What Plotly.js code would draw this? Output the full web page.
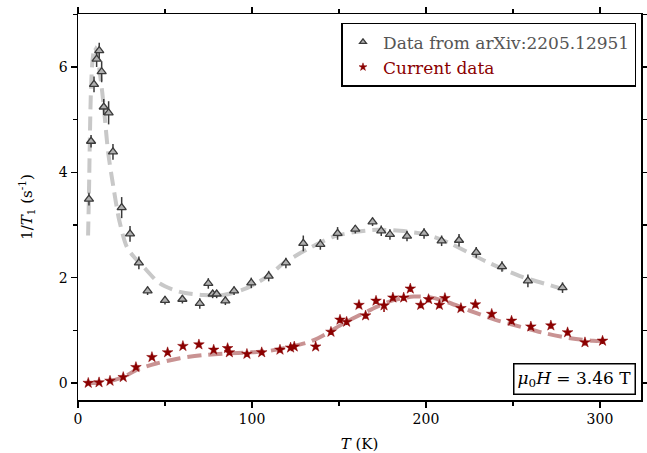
<!DOCTYPE html>
<html>
<head>
<meta charset="utf-8">
<script src="https://cdn.plot.ly/plotly-3.0.1.min.js"></script>
<style>html,body{margin:0;padding:0;background:#fff;}#chart{width:647px;height:453px;}</style>
</head>
<body>
<div id="chart"></div>
<script>
// Data from arXiv:2205.12951 (gray triangles)
const refT = [6.3, 7.5, 9.2, 10.7, 12.2, 13.6, 14.8, 17.6, 20.1, 25.1, 29.9, 35, 40, 50, 60, 70, 74.9, 77.4, 79.7, 84.7, 89.7, 99.6, 109.6, 119.5, 129.5, 139.3, 149.2, 159.4, 169.3, 174.3, 179.3, 189.1, 198.9, 209, 219, 228.9, 243.7, 258.6, 278.5];
const refY = [3.49, 4.59, 5.67, 6.15, 6.31, 5.91, 5.24, 5.13, 4.39, 3.33, 2.83, 2.28, 1.75, 1.57, 1.59, 1.51, 1.89, 1.69, 1.69, 1.56, 1.75, 1.90, 2.03, 2.28, 2.65, 2.63, 2.84, 2.92, 3.06, 2.89, 2.82, 2.79, 2.84, 2.70, 2.71, 2.48, 2.21, 1.94, 1.81];
const refErr = [0.12, 0.12, 0.15, 0.15, 0.15, 0.2, 0.15, 0.22, 0.15, 0.2, 0.15, 0.12, 0.08, 0.08, 0.08, 0.1, 0.1, 0.08, 0.08, 0.08, 0.08, 0.1, 0.1, 0.1, 0.15, 0.1, 0.12, 0.08, 0.08, 0.1, 0.1, 0.1, 0.1, 0.1, 0.12, 0.1, 0.1, 0.12, 0.1];

// Current data (dark red stars)
const curT = [5.9, 12.1, 18.4, 26, 33.3, 42.5, 51.5, 60.3, 69.5, 78, 86, 87, 97.1, 105.6, 116.1, 122.2, 124.3, 136.6, 145.4, 150.6, 154.4, 161.5, 165.3, 171.3, 175.9, 181, 187.2, 191, 197, 201.5, 207.7, 210.9, 220.1, 228.4, 237.8, 249.2, 260.3, 271.8, 281.4, 291.4, 301.5];
const curY = [0.0, 0.01, 0.04, 0.11, 0.30, 0.49, 0.58, 0.70, 0.73, 0.63, 0.66, 0.58, 0.55, 0.58, 0.63, 0.67, 0.69, 0.69, 0.97, 1.20, 1.16, 1.48, 1.28, 1.56, 1.47, 1.62, 1.62, 1.79, 1.48, 1.59, 1.48, 1.61, 1.42, 1.49, 1.31, 1.18, 1.07, 1.09, 0.96, 0.77, 0.80];
const curErr = [0.03, 0.03, 0.03, 0.04, 0.05, 0.05, 0.05, 0.05, 0.05, 0.05, 0.05, 0.05, 0.05, 0.05, 0.05, 0.05, 0.05, 0.05, 0.06, 0.06, 0.06, 0.06, 0.06, 0.06, 0.12, 0.06, 0.06, 0.06, 0.06, 0.06, 0.06, 0.06, 0.06, 0.06, 0.06, 0.06, 0.06, 0.06, 0.06, 0.06, 0.06];

// Fit curves
const refFitT = [5.8, 6.3, 6.8, 7.4, 8.3, 9.6, 11, 12.5, 14, 15.5, 17.4, 20.3, 23.7, 28, 32, 37.5, 47, 58.6, 72, 83.5, 97, 110, 118, 133, 147, 160, 172, 185, 200, 214, 235, 254, 273, 281];
const refFitY = [2.8, 3.6, 4.6, 5.5, 6.1, 6.38, 6.25, 5.9, 5.5, 5.0, 4.36, 3.73, 3.09, 2.59, 2.4, 2.21, 1.89, 1.73, 1.67, 1.67, 1.8, 2.05, 2.27, 2.56, 2.78, 2.87, 2.91, 2.89, 2.82, 2.65, 2.3, 2.03, 1.84, 1.76];
const curFitT = [5, 14.5, 26, 33.7, 45, 58.6, 72, 85, 99, 110, 122, 133, 143, 152.5, 162, 172, 181, 193, 202, 212, 227, 240, 254, 269, 283, 296, 301];
const curFitY = [0.0, 0.01, 0.11, 0.25, 0.37, 0.47, 0.53, 0.56, 0.58, 0.61, 0.69, 0.78, 0.94, 1.13, 1.29, 1.45, 1.57, 1.64, 1.63, 1.54, 1.35, 1.2, 1.07, 0.94, 0.85, 0.80, 0.80];

const legendNames = ['Data from arXiv:2205.12951', 'Current data'];
const legendColors = ['#555555', '#8b0000'];

const FONT = 'DejaVu Serif, serif';

const traces = [
  {x: refFitT, y: refFitY, mode: 'lines', line: {color: '#c8c8c8', width: 4, dash: '14px,7px', shape: 'spline', smoothing: 0.8}, showlegend: false, hoverinfo: 'skip'},
  {x: curFitT, y: curFitY, mode: 'lines', line: {color: '#c99393', width: 4, dash: '14px,7px', shape: 'spline', smoothing: 0.8}, showlegend: false, hoverinfo: 'skip'},
  {x: refT, y: refY, mode: 'markers', showlegend: false,
   marker: {symbol: 'triangle-up', size: 8, color: '#b0b0b0', line: {color: '#3a3a3a', width: 1.3}},
   error_y: {type: 'data', array: refErr, visible: true, color: '#3a3a3a', thickness: 1.5, width: 0}},
  {x: curT, y: curY, mode: 'markers', showlegend: false,
   marker: {symbol: 'star', size: 8, color: '#8b0000', line: {color: '#8b0000', width: 0.5}},
   error_y: {type: 'data', array: curErr, visible: true, color: '#8b0000', thickness: 1.5, width: 0}},
  // legend entries (smaller symbols, coloured text)
  {x: [null], y: [null], mode: 'markers', name: '<span style="color:' + legendColors[0] + '">' + legendNames[0] + '</span>',
   marker: {symbol: 'triangle-up', size: 6, color: '#b0b0b0', line: {color: '#3a3a3a', width: 1.3}}},
  {x: [null], y: [null], mode: 'markers', name: '<span style="color:' + legendColors[1] + '">' + legendNames[1] + '</span>',
   marker: {symbol: 'star', size: 6, color: '#8b0000', line: {color: '#8b0000', width: 0.5}}}
];

const layout = {
  width: 647, height: 453,
  margin: {l: 78, r: 6, t: 14, b: 53},
  paper_bgcolor: '#fff', plot_bgcolor: '#fff',
  font: {family: FONT, size: 14, color: '#000'},
  showlegend: true,
  legend: {x: 0.992, y: 0.977, xanchor: 'right', yanchor: 'top', bordercolor: '#000', borderwidth: 1.5, bgcolor: '#fff',
           font: {family: FONT, size: 17}, tracegroupgap: 0, itemwidth: 30},
  xaxis: {range: [0, 323.6], showgrid: false, zeroline: false, showline: true, linecolor: '#000', linewidth: 1.5, mirror: 'ticks',
          ticks: 'outside', ticklen: 6, tickwidth: 1.5, tickcolor: '#000', dtick: 100, tick0: 0,
          minor: {dtick: 50, ticklen: 4, tickwidth: 1.5, tickcolor: '#000', ticks: 'outside'},
          tickfont: {family: FONT, size: 14},
          title: {text: '<i>T</i> (K)', font: {family: FONT, size: 15}, standoff: 12}},
  yaxis: {range: [-0.323, 7.006], showgrid: false, zeroline: false, showline: true, linecolor: '#000', linewidth: 1.5, mirror: 'ticks',
          ticks: 'outside', ticklen: 6, tickwidth: 1.5, tickcolor: '#000', dtick: 2, tick0: 0,
          minor: {dtick: 1, ticklen: 4, tickwidth: 1.5, tickcolor: '#000', ticks: 'outside'},
          tickfont: {family: FONT, size: 14},
          title: {text: '1/<i>T</i><sub>1</sub> (s<sup>-1</sup>)', font: {family: FONT, size: 15}, standoff: 22}},
  annotations: [{
    xref: 'paper', yref: 'paper', x: 0.992, y: 0.012, xanchor: 'right', yanchor: 'bottom',
    text: '<i>μ</i><sub>0</sub><i>H</i> = 3.46 T', showarrow: false,
    font: {family: FONT, size: 17, color: '#000'}, bordercolor: '#000', borderwidth: 1.5, borderpad: 3, bgcolor: '#fff'
  }]
};

Plotly.newPlot('chart', traces, layout, {displayModeBar: false, staticPlot: true});
</script>
</body>
</html>
